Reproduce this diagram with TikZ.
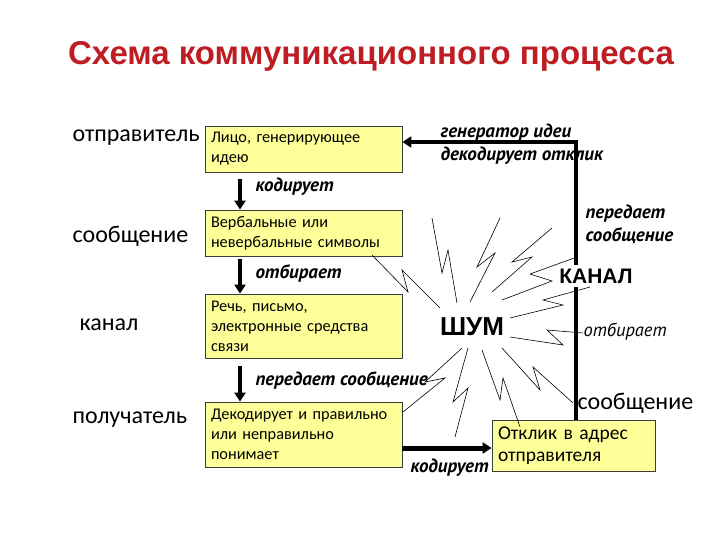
\documentclass[tikz,border=0pt]{standalone}
\usepackage{fontspec}
\setmainfont{Carlito}
\newfontfamily\ptsans{PT Sans}
\newfontfamily\arialfnt{Liberation Sans}
\usetikzlibrary{arrows.meta,positioning,calc}
\definecolor{titlered}{RGB}{190,30,35}
\definecolor{boxyellow}{RGB}{255,255,153}
\definecolor{boxline}{RGB}{60,60,60}
\tikzset{
  stage/.style={draw=boxline, fill=boxyellow, line width=0.8pt, text width=185pt,
    align=left, inner xsep=6pt, font=\fontsize{16.3}{20}\selectfont},
  role/.style={anchor=west, font=\fontsize{24}{26}\selectfont},
  verb/.style={anchor=west, align=left, font=\ptsans\bfseries\itshape\fontsize{19}{23}\selectfont},
  flow/.style={line width=4pt, -{Triangle[length=9pt,width=11pt]}},
  zig/.style={line width=0.6pt}
}

\begin{document}
\begin{tikzpicture}[x=1pt,y=-1pt]
        \useasboundingbox (0,0) rectangle (720,540);
        \node[font=\arialfnt\bfseries\fontsize{33}{38}\selectfont, text=titlered] (title) at (371,56) {Схема коммуникационного процесса};

        \node[role] (sender) at (69,138) {отправитель};
        \node[role] (msg) at (69,236) {сообщение};
        \node[role] (chan) at (76,325) {канал};
        \node[role] (recv) at (69,420) {получатель};

        \node[stage, minimum height=46pt] (b1) at (303.5,149) {Лицо, генерирующее\\идею};
        \node[stage, minimum height=46pt] (b2) at (303.5,233) {Вербальные или\\невербальные символы};
        \node[stage, minimum height=64pt] (b3) at (303.5,326) {Речь, письмо,\\электронные средства\\связи};
        \node[stage, minimum height=65pt] (b4) at (303.5,434.5) {Декодирует и правильно\\или неправильно\\понимает};
        \node[stage, minimum height=51pt, text width=151pt, font=\fontsize{19.5}{22}\selectfont] (b5) at (573.5,445.5) {Отклик в адрес\\отправителя};

        \node[verb] (enc) at (252,187) {кодирует};
        \node[verb] (sel) at (252,273) {отбирает};
        \node[verb] (send) at (252,380) {передает сообщение};
        \node[verb] (enc2) at (407,468) {кодирует};
        \node[verb] (gen) at (437,144.5) {генератор идеи\\декодирует отклик};
        \node[verb] (fwd) at (582,224) {передает\\сообщение};

        \draw[flow] ([xshift=-63.5pt,yshift=-7pt]b1.south) -- ([xshift=-63.5pt]b2.north);
        \draw[flow] ([xshift=-63.5pt,yshift=-3pt]b2.south) -- ([xshift=-63.5pt]b3.north);
        \draw[flow] ([xshift=-63.5pt,yshift=-8pt]b3.south) -- ([xshift=-63.5pt]b4.north);
        \coordinate (k) at (0,448);
        \draw[flow, line width=5pt] (b4.east |- k) -- (b5.west |- k);
        \draw[flow] ([xshift=2pt]b5.north) |- ([yshift=7pt]b1.east);

        \node[fill=white, font=\arialfnt\bfseries\fontsize{21}{24}\selectfont] (canal) at (596,276) {КАНАЛ};
        \node[anchor=west, font=\ptsans\itshape\fontsize{18.5}{20}\selectfont] (sel2) at (580,332) {отбирает};
        \node[role] (msg2) at (574,403) {сообщение};
        \node[font=\arialfnt\bfseries\fontsize{26}{30}\selectfont] (noise) at (472,327) {ШУМ};

        \draw[zig] (372,255) -- (408,292) -- (402,270) -- (440,308);
        \draw[zig] (432,218) -- (442,273) -- (448,250) -- (457,303);
        \draw[zig] (500,218) -- (477,267) -- (495,253) -- (470,302);
        \draw[zig] (552,228) -- (512,262) -- (532,257) -- (492,292);
        \draw[zig] (577,257) -- (530,274) -- (552,281) -- (502,300);
        \draw[zig] (590,287) -- (543,300) -- (563,305) -- (510,318);
        \draw[zig] (510,337) -- (563,345) -- (547,330) -- (583,333);
        \draw[zig] (502,348) -- (540,390) -- (533,367) -- (573,403);
        \draw[zig] (482,350) -- (500,400) -- (503,378) -- (520,427);
        \draw[zig] (468,348) -- (453,402) -- (468,388) -- (455,437);
        \draw[zig] (462,348) -- (425,382) -- (445,378) -- (403,412);
    \end{tikzpicture}
\end{document}
